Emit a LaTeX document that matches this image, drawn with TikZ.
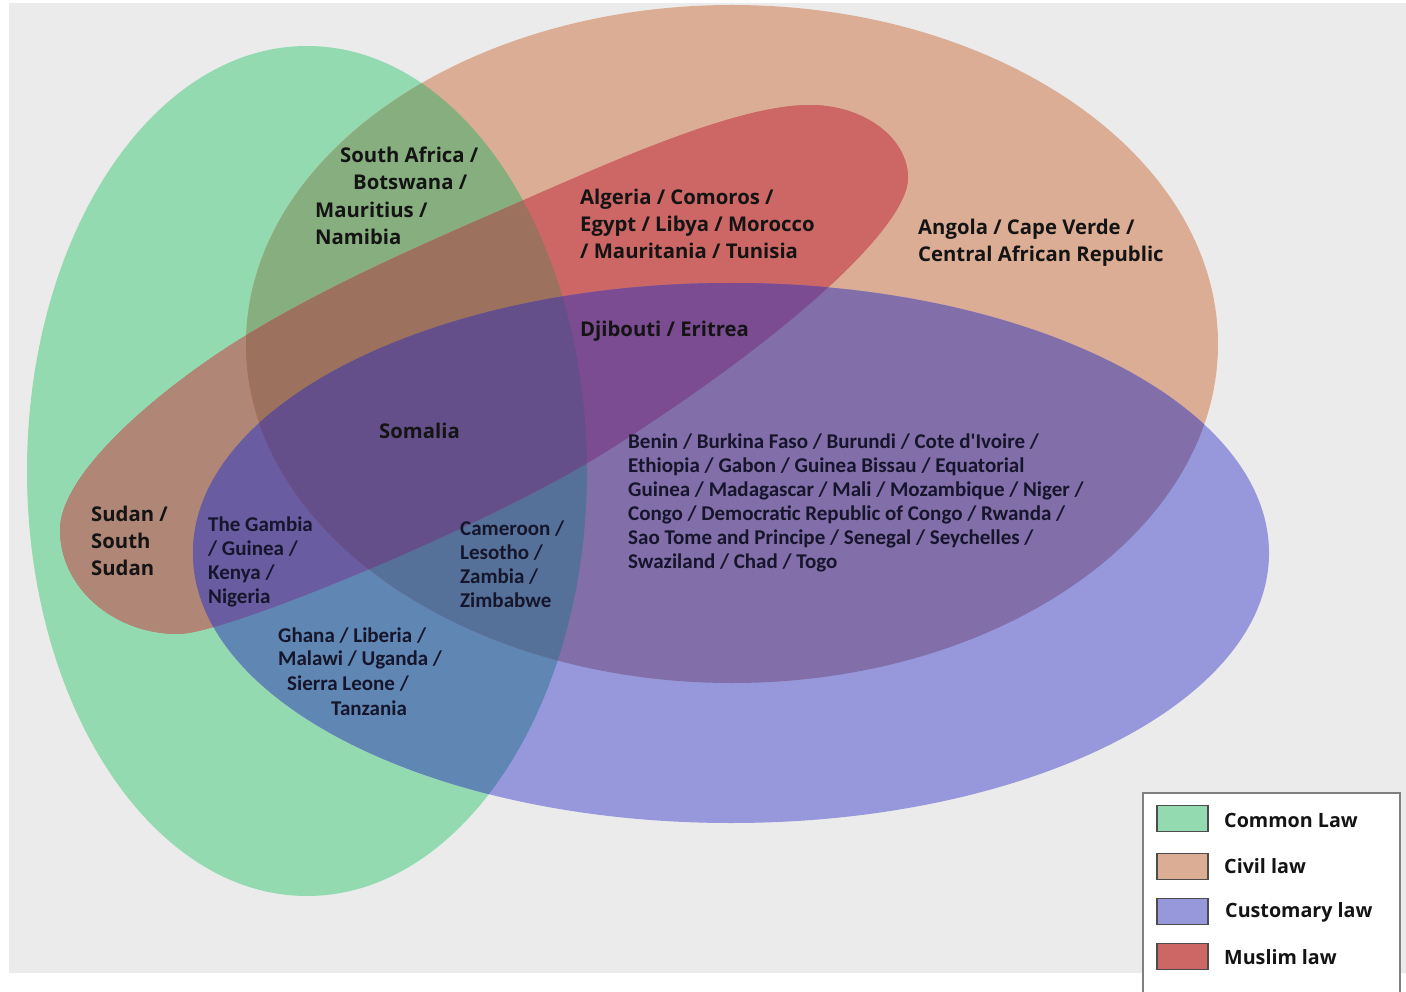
\documentclass[tikz,border=0pt]{standalone}
\usepackage{fontspec}
\newfontfamily\osans{Open Sans}
\newfontfamily\carl{Carlito}
\definecolor{bg}{HTML}{EBEBEB}
\definecolor{cG}{HTML}{93DAB1}
\definecolor{cO}{HTML}{DBAD94}
\definecolor{cB}{HTML}{9698DB}
\definecolor{cR}{HTML}{CC6765}
\definecolor{cGO}{HTML}{86AE7F}
\definecolor{cGR}{HTML}{B08677}
\definecolor{cGB}{HTML}{6087B4}
\definecolor{cOR}{HTML}{CC6765}
\definecolor{cOB}{HTML}{826EA8}
\definecolor{cRB}{HTML}{8A5EA0}
\definecolor{cGOR}{HTML}{9C715D}
\definecolor{cGOB}{HTML}{567199}
\definecolor{cGRB}{HTML}{695CA0}
\definecolor{cORB}{HTML}{7B4C91}
\definecolor{cGORB}{HTML}{654F8A}
\definecolor{txt}{HTML}{141414}
\definecolor{txtb}{HTML}{15152B}
\tikzset{
  lab/.style={font=\osans\bfseries\fontsize{20.3}{27}\selectfont, text=txt, inner sep=0pt, anchor=west, align=left},
  cnd/.style={font=\carl\bfseries\fontsize{21}{24}\selectfont, text=txtb, inner sep=0pt, anchor=west, align=left},
  legtext/.style={font=\osans\bfseries\fontsize{19.7}{24}\selectfont, text=txt, inner sep=0pt, anchor=west},
  swatch/.style={draw=black!70, line width=1.5pt, minimum width=51pt, minimum height=26pt, inner sep=0pt}
}
\def\eG{(307,471) ellipse [x radius=280pt, y radius=425pt]}
\def\eO{(732,344) ellipse [x radius=486pt, y radius=339pt]}
\def\eB{(731,553) ellipse [x radius=538pt, y radius=270pt]}
% Muslim law: tilted oval, slightly egg-shaped
\def\eR{(810,105) .. controls (864,105) and (908,138) .. (908,178)
  .. controls (908,225) and (794,333) .. (604,453)
  .. controls (494,522) and (228,634) .. (178,634)
  .. controls (113,634) and (60,587) .. (60,530)
  .. controls (60,470) and (170,381) .. (250,333)
  .. controls (340,279) and (434,239.6) .. (524,200)
  .. controls (624,156) and (740,105) .. (810,105) -- cycle}
\begin{document}
\begin{tikzpicture}[x=1pt,y=-1pt]
\useasboundingbox (0,0) rectangle (1406,992);
\fill[white] (0,0) rectangle (1406,992);
\fill[bg] (9,3) rectangle (1406,973);
% single sets
\fill[cG] \eG;
\fill[cO] \eO;
\fill[cB] \eB;
\fill[cR] \eR;
% pairs
\begin{scope}\clip \eG; \fill[cGO] \eO; \end{scope}
\begin{scope}\clip \eG; \fill[cGR] \eR; \end{scope}
\begin{scope}\clip \eG; \fill[cGB] \eB; \end{scope}
\begin{scope}\clip \eO; \fill[cOR] \eR; \end{scope}
\begin{scope}\clip \eO; \fill[cOB] \eB; \end{scope}
\begin{scope}\clip \eR; \fill[cRB] \eB; \end{scope}
% triples
\begin{scope}\clip \eG; \clip \eO; \fill[cGOR] \eR; \end{scope}
\begin{scope}\clip \eG; \clip \eO; \fill[cGOB] \eB; \end{scope}
\begin{scope}\clip \eG; \clip \eR; \fill[cGRB] \eB; \end{scope}
\begin{scope}\clip \eO; \clip \eR; \fill[cORB] \eB; \end{scope}
% all four
\begin{scope}\clip \eG; \clip \eO; \clip \eR; \fill[cGORB] \eB; \end{scope}

% labels
\node[lab] (sa1) at (340,155) {South Africa /};
\node[lab] (sa2) at (353,182) {Botswana /};
\node[lab] (sa3) at (315,210) {Mauritius /};
\node[lab] (sa4) at (315,237) {Namibia};
\node[lab] (alg) at (580,224) {Algeria / Comoros /\\Egypt / Libya / Morocco\\/ Mauritania / Tunisia};
\node[lab] (ang) at (918,243) {Angola / Cape Verde /\\Central African Republic};
\node[lab] (dji) at (580,331) {Djibouti / Eritrea};
\node[lab] (som) at (379,431) {Somalia};
\node[lab] (sud) at (91,541) {Sudan /\\South\\Sudan};
\node[cnd] (ben) at (628,503) {Benin / Burkina Faso / Burundi / Cote d'Ivoire /\\Ethiopia / Gabon / Guinea Bissau / Equatorial\\Guinea / Madagascar / Mali / Mozambique / Niger /\\Congo / Democratic Republic of Congo / Rwanda /\\Sao Tome and Principe / Senegal / Seychelles /\\Swaziland / Chad / Togo};
\node[cnd] (gam) at (208,562) {The Gambia\\/ Guinea /\\Kenya /\\Nigeria};
\node[cnd] (cam) at (460,564) {Cameroon /\\Lesotho /\\Zambia /\\Zimbabwe};
\node[cnd] (gh1) at (278,636) {Ghana / Liberia /};
\node[cnd] (gh2) at (278,660) {Malawi / Uganda /};
\node[cnd] (gh3) at (287,684) {Sierra Leone /};
\node[cnd] (gh4) at (331,708) {Tanzania};

% legend
\draw[black!50, line width=1.5pt, fill=white] (1143,793) rectangle (1400,996);
\node[swatch, fill=cG] (s1) at (1182.5,818.5) {};
\node[swatch, fill=cO] (s2) at (1182.5,866.5) {};
\node[swatch, fill=cB] (s3) at (1182.5,911.5) {};
\node[swatch, fill=cR] (s4) at (1182.5,956.5) {};
\node[legtext] (l1) at (1224,820) {Common Law};
\node[legtext] (l2) at (1224,866) {Civil law};
\node[legtext] (l3) at (1225,912) {Customary law};
\node[legtext] (l4) at (1224,957) {Muslim law};
\end{tikzpicture}
\end{document}
